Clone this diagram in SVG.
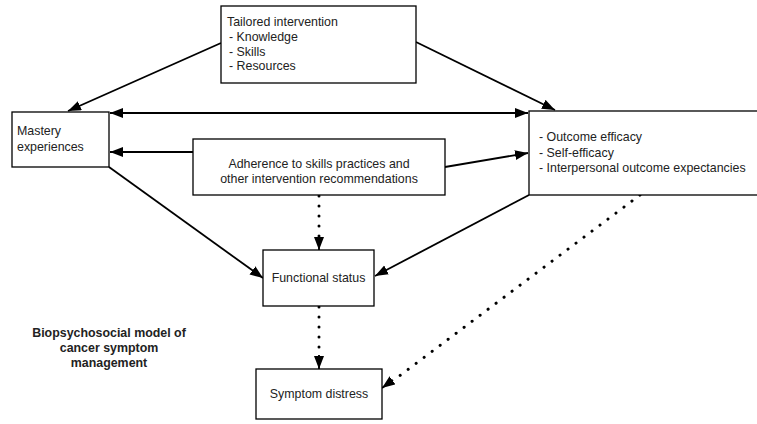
<svg xmlns="http://www.w3.org/2000/svg" width="757" height="424" viewBox="0 0 757 424">
<style>
.box{fill:#fff;stroke:#000;stroke-width:1.3}
.t{font-family:"Liberation Sans",Arial,sans-serif;font-size:12.4px;fill:#222}
.b{font-family:"Liberation Sans",Arial,sans-serif;font-size:12.4px;font-weight:bold;fill:#222}
.ln{fill:none;stroke:#000;stroke-width:1.8}
.dot{fill:none;stroke:#000;stroke-width:3;stroke-linecap:round;stroke-dasharray:0.1 9.9}
</style>
<defs>
<marker id="ah" markerUnits="userSpaceOnUse" markerWidth="14" markerHeight="11" refX="13" refY="5" orient="auto-start-reverse">
<path d="M0,0 L13,5 L0,10 z" fill="#000"/>
</marker>
</defs>
<rect width="757" height="424" fill="#fff"/>
<g id="connectors">
<line class="ln" x1="221" y1="43" x2="68" y2="111" marker-end="url(#ah)"/>
<line class="ln" x1="416" y1="42" x2="555" y2="110" marker-end="url(#ah)"/>
<line class="ln" x1="110" y1="113" x2="528" y2="113" marker-start="url(#ah)" marker-end="url(#ah)"/>
<line class="ln" x1="193" y1="152" x2="110" y2="152" marker-end="url(#ah)"/>
<line class="ln" x1="445" y1="167" x2="528" y2="153" marker-end="url(#ah)"/>
<line class="ln" x1="109" y1="167" x2="263" y2="278" marker-end="url(#ah)"/>
<line class="ln" x1="529" y1="195" x2="375" y2="276" marker-end="url(#ah)"/>
<line class="dot" x1="319" y1="196" x2="319" y2="240"/>
<line class="ln" x1="319" y1="236" x2="319" y2="250" marker-end="url(#ah)"/>
<line class="dot" x1="319" y1="307" x2="319" y2="358"/>
<line class="ln" x1="319" y1="355" x2="319" y2="369" marker-end="url(#ah)"/>
<line class="dot" x1="640" y1="195" x2="398" y2="377"/>
<line class="ln" x1="393" y1="380" x2="382" y2="388" marker-end="url(#ah)"/>
</g>
<g id="tailored">
<rect class="box" x="221" y="6" width="195" height="77"/>
<text class="t" x="227" y="26">Tailored intervention</text>
<text class="t" x="229" y="41">- Knowledge</text>
<text class="t" x="229" y="56">- Skills</text>
<text class="t" x="229" y="70">- Resources</text>
</g>
<g id="mastery">
<rect class="box" x="12" y="112" width="97" height="55"/>
<text class="t" x="17" y="135">Mastery</text>
<text class="t" x="17" y="151">experiences</text>
</g>
<g id="adherence">
<rect class="box" x="193" y="139" width="252" height="56"/>
<text class="t" x="319" y="168" text-anchor="middle">Adherence to skills practices and</text>
<text class="t" x="319" y="183" text-anchor="middle">other intervention recommendations</text>
</g>
<g id="outcome">
<rect class="box" x="529" y="111" width="240" height="84"/>
<text class="t" x="539" y="141">- Outcome efficacy</text>
<text class="t" x="539" y="157">- Self-efficacy</text>
<text class="t" x="539" y="172">- Interpersonal outcome expectancies</text>
</g>
<g id="functional">
<rect class="box" x="263" y="250" width="111" height="56"/>
<text class="t" x="318.5" y="282" text-anchor="middle">Functional status</text>
</g>
<g id="symptom">
<rect class="box" x="256" y="369" width="126" height="50"/>
<text class="t" x="319" y="398" text-anchor="middle">Symptom distress</text>
</g>
<g id="title">
<text class="b" x="109" y="337" text-anchor="middle">Biopsychosocial model of</text>
<text class="b" x="109" y="352" text-anchor="middle">cancer symptom</text>
<text class="b" x="109" y="367" text-anchor="middle">management</text>
</g>
</svg>
